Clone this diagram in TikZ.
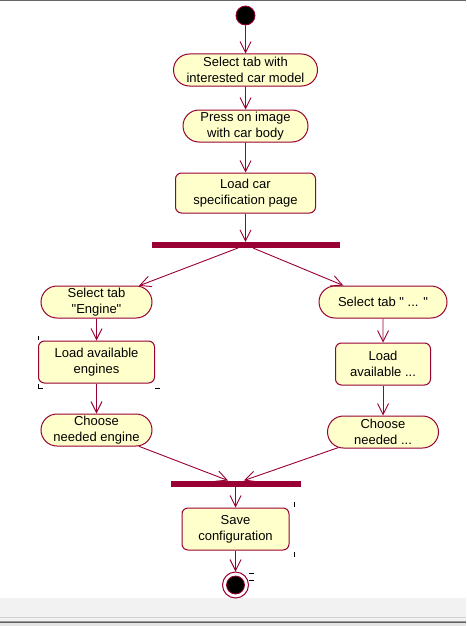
\documentclass[tikz,border=0pt]{standalone}
\usepackage{fontspec}
\setmainfont{Liberation Sans}[Ligatures=TeXOff]
\usetikzlibrary{shapes.misc,arrows.meta}
\definecolor{umlred}{HTML}{990033}
\definecolor{umlfill}{HTML}{FFFFCC}
\begin{document}
\begin{tikzpicture}[x=1pt,y=-1pt,
  font=\fontsize{13}{16}\selectfont,
  base/.style={draw=umlred, fill=umlfill, line width=1pt, align=center, inner sep=0pt},
  act/.style={base, rounded rectangle, minimum height=32pt},
  proc/.style={base, rectangle, rounded corners=6pt, minimum height=42pt},
  syncbar/.style={fill=umlred, draw=none, inner sep=0pt, minimum height=6pt},
  flow/.style={draw=umlred, line width=0.9pt, -{Straight Barb[length=11pt,width=11pt]}},
  tick/.style={draw=black, line width=1pt}
]
\useasboundingbox (0,0) rectangle (466,626);
\fill[white] (0,0) rectangle (466,626);

% window frame
\fill[black!60] (0,0) rectangle (466,1.3);
\fill[black!5] (0,598) rectangle (466,626);
\fill[black!18] (0,616.5) rectangle (466,617.5);
\fill[black!40] (0,621) rectangle (466,622);
\fill[black!62] (0,622) rectangle (466,623.3);
\fill[black!10] (0,623.3) rectangle (466,626);

% initial state
\node[circle, fill=black, draw=umlred, line width=0.8pt, minimum size=19pt, inner sep=0pt] (start) at (245.5,15.5) {};

% main sequence
\node[act, minimum width=144pt] (n1) at (245.5,70) {Select tab with\\interested car model};
\node[act, minimum width=125pt] (n2) at (245.5,126) {Press on image\\with car body};
\node[proc, minimum width=140pt, minimum height=40pt] (n3) at (245.5,193) {Load car\\specification page};
\node[syncbar, minimum width=188pt] (fork) at (246,245) {};

% left branch
\node[act, minimum width=111pt] (lsel) at (96.5,302) {Select tab\\"Engine"};
\node[proc, minimum width=116pt] (lload) at (96.5,362) {Load available\\engines};
\node[act, minimum width=111pt] (lch) at (96.5,430) {Choose\\needed engine};

% right branch
\node[act, minimum width=128pt] (rsel) at (383,302) {Select tab " ... "};
\node[proc, minimum width=95pt] (rload) at (383,364) {Load\\available ...};
\node[act, minimum width=111pt] (rch) at (383,432) {Choose\\needed ...};

% join and finish
\node[syncbar, minimum width=130pt] (join) at (236,483.5) {};
\node[proc, minimum width=107pt] (save) at (235.5,529) {Save\\configuration};
\node[circle, draw=umlred, fill=white, line width=1pt, minimum size=26pt, inner sep=0pt] (final) at (235.5,585) {};
\node[circle, fill=black, draw=umlred, line width=0.8pt, minimum size=18pt, inner sep=0pt] (finalcore) at (final) {};

% flows
\coordinate (fl) at (238,248);
\coordinate (fr) at (253,248);
\coordinate (jl) at (228,480.5);
\coordinate (jr) at (244,480.5);
\draw[flow] (start) -- (n1);
\draw[flow] (n1) -- (n2);
\draw[flow] (n2) -- (n3);
\draw[flow] (n3) -- (n3 |- fork.north);
\draw[flow] (fl) -- (lsel);
\draw[flow] (fr) -- (rsel);
\draw[flow] (lsel) -- (lload);
\draw[flow] (lload) -- (lch);
\draw[flow] (rsel) -- (rload);
\draw[flow] (rload) -- (rch);
\draw[flow] (lch) -- (jl);
\draw[flow] (rch) -- (jr);
\draw[flow] (join.south -| save) -- (save);
\draw[flow] (save) -- (final);

% selection handles
\draw[tick] (38.5,336) -- (38.5,340);
\draw[tick] (38.5,384) -- (38.5,388.5) -- (42.5,388.5);
\draw[tick] (155,388.5) -- (160,388.5);
\draw[tick] (294.5,502) -- (294.5,507);
\draw[tick] (294.5,552) -- (294.5,557);
\draw[tick] (249,573.5) -- (254,573.5);
\draw[tick] (249,580.5) -- (254,580.5);
\end{tikzpicture}
\end{document}
